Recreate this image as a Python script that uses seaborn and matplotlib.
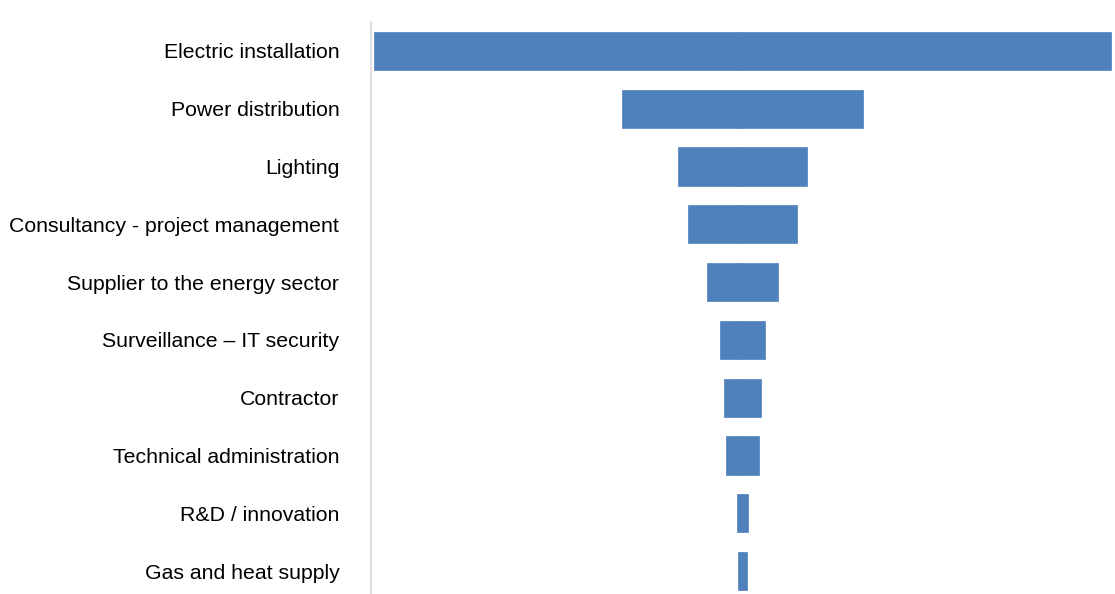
import pandas as pd
import matplotlib.pyplot as plt
import seaborn as sns

categories = [
    "Electric installation",
    "Power distribution",
    "Lighting",
    "Consultancy - project management",
    "Supplier to the energy sector",
    "Surveillance \u2013 IT security",
    "Contractor",
    "Technical administration",
    "R&D / innovation",
    "Gas and heat supply",
]
values = [100.0, 32.7, 17.5, 14.8, 9.6, 6.2, 5.0, 4.5, 1.4, 1.2]

df = pd.DataFrame({"Category": categories, "Value": values})
df["Half"] = df["Value"] / 2
df["NegHalf"] = -df["Value"] / 2

sns.set_style("white")
plt.rcParams["font.family"] = ["Liberation Sans", "DejaVu Sans"]

fig = plt.figure(figsize=(11.15, 5.94), dpi=100)
ax = fig.add_axes([0.333, -0.01, 0.665, 0.973])

bar_color = "#4F81BD"
# funnel: two half bars mirrored around the centre
for col in ["Half", "NegHalf"]:
    sns.barplot(data=df, x=col, y="Category", orient="h", color=bar_color,
                width=0.66, saturation=1, linewidth=0.5,
                edgecolor=bar_color, ax=ax)

ax.set_xlim(-50.4, 50.3)
ax.set_xlabel("")
ax.set_ylabel("")
ax.set_xticks([])
ax.tick_params(axis="y", length=0, pad=23, labelsize=15.3, labelcolor="black")
for s in ["top", "right", "bottom"]:
    ax.spines[s].set_visible(False)
ax.spines["left"].set_color("#d9d9d9")
ax.spines["left"].set_linewidth(1.2)

fig.savefig("out.png", dpi=100)
